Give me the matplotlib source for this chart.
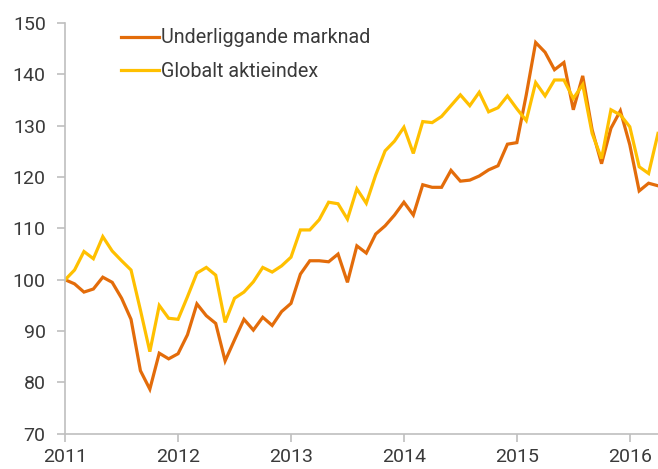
import numpy as np
import matplotlib.pyplot as plt

# Monthly index values, Jan 2011 - Apr 2016
underliggande = [100.0, 99.2, 97.6, 98.2, 100.5, 99.5, 96.4, 92.3, 82.3, 78.7,
                 85.7, 84.6, 85.6, 89.3, 95.3, 93.0, 91.5, 84.2, 88.3, 92.3,
                 90.2, 92.7, 91.1, 93.8, 95.4, 101.1, 103.7, 103.7, 103.5, 105.0,
                 99.5, 106.6, 105.2, 108.9, 110.5, 112.6, 115.1, 112.6, 118.5, 118.0,
                 118.0, 121.3, 119.2, 119.4, 120.2, 121.4, 122.2, 126.4, 126.7, 136.0,
                 146.2, 144.3, 140.9, 142.3, 133.1, 139.7, 129.2, 122.6, 129.5, 132.9,
                 126.3, 117.3, 118.8, 118.3]
globalt = [100.0, 101.9, 105.5, 104.1, 108.4, 105.6, 103.7, 101.9, 94.1, 86.0,
           95.0, 92.5, 92.3, 96.7, 101.3, 102.4, 100.9, 91.7, 96.4, 97.6,
           99.6, 102.4, 101.5, 102.7, 104.4, 109.7, 109.7, 111.7, 115.1, 114.8,
           111.8, 117.7, 114.9, 120.4, 125.1, 127.0, 129.7, 124.6, 130.8, 130.6,
           131.8, 133.9, 136.0, 133.9, 136.5, 132.7, 133.5, 135.8, 133.3, 131.0,
           138.4, 135.8, 138.9, 138.9, 135.3, 138.0, 128.5, 123.6, 133.1, 132.1,
           129.8, 122.0, 120.7, 128.5]
years = [2011, 2012, 2013, 2014, 2015, 2016]
yticks = [70, 80, 90, 100, 110, 120, 130, 140, 150]

x = 2011 + np.arange(len(underliggande)) / 12

plt.rcParams['font.family'] = ['Roboto', 'DejaVu Sans']

fig = plt.figure(figsize=(6.58, 4.69), dpi=100)
ax = fig.add_axes([0.099, 0.075, 0.901, 0.876])

ax.plot(x, underliggande, color='#E36C0A', lw=2.3, label='Underliggande marknad', solid_joinstyle='miter')
ax.plot(x, globalt, color='#FFC000', lw=2.3, label='Globalt aktieindex', solid_joinstyle='miter')

ax.set_xlim(2011, 2016.25)
ax.set_ylim(70, 150)
ax.set_xticks(years)
ax.set_yticks(yticks)

for s in ['top', 'right']:
    ax.spines[s].set_visible(False)
for s in ['left', 'bottom']:
    ax.spines[s].set_color('#bfbfbf')
    ax.spines[s].set_linewidth(1.2)
ax.tick_params(colors='#bfbfbf', labelcolor='#3a3a3a', labelsize=14, length=6, width=1.2)
ax.tick_params(axis='y', pad=8)
ax.tick_params(axis='x', pad=4)

leg = ax.legend(loc='upper left', bbox_to_anchor=(0.065, 1.03), frameon=False,
                fontsize=14.2, handlelength=1.9, handletextpad=0.1, labelspacing=0.72)
for t in leg.get_texts():
    t.set_color('#3a3a3a')

fig.savefig('out.png', dpi=100)
